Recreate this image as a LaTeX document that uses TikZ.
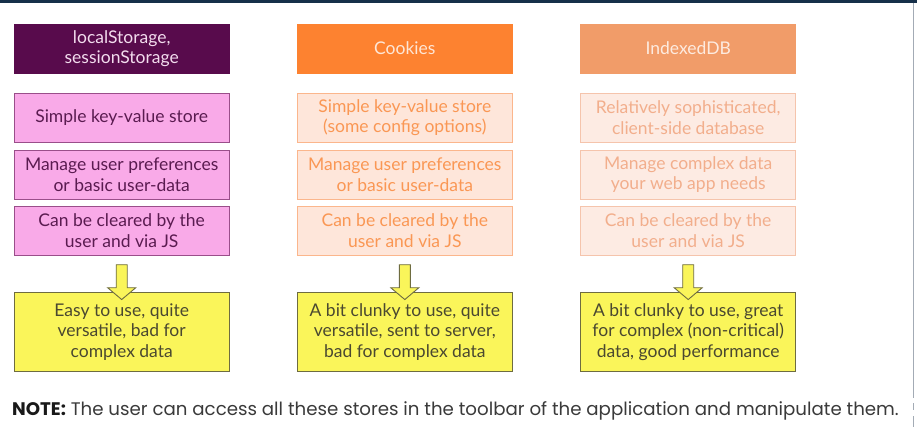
\documentclass[tikz,border=0pt]{standalone}
\usepackage{fontspec}
\newfontfamily\boxfont{Lato}
\newfontfamily\notefont{Poppins}
\usetikzlibrary{calc}
\definecolor{topbar}{HTML}{163049}
\definecolor{edgeline}{HTML}{A3ABB5}
\definecolor{hdA}{HTML}{580B4C}
\definecolor{hdAtxt}{HTML}{F3DCEE}
\definecolor{hdB}{HTML}{FD8230}
\definecolor{hdBtxt}{HTML}{FEE6D6}
\definecolor{hdC}{HTML}{F19C69}
\definecolor{hdCtxt}{HTML}{FDEBE0}
\definecolor{pkFill}{HTML}{F9AAE8}
\definecolor{pkDraw}{HTML}{9A4E8A}
\definecolor{pkTxt}{HTML}{5A1B50}
\definecolor{orFill}{HTML}{FEE6DA}
\definecolor{orDraw}{HTML}{FBB68C}
\definecolor{orTxt}{HTML}{FA9754}
\definecolor{saFill}{HTML}{FDEBE3}
\definecolor{saDraw}{HTML}{F5C4AC}
\definecolor{saTxt}{HTML}{F2AE8C}
\definecolor{ywFill}{HTML}{FAF55A}
\definecolor{ywDraw}{HTML}{6E6C40}
\definecolor{ywTxt}{HTML}{4A4830}
\definecolor{noteTxt}{HTML}{3A3A3A}
\tikzset{
  cell/.style={rectangle, minimum width=215pt, minimum height=49pt, align=center,
    inner sep=0pt, line width=0.9pt, font=\boxfont\fontsize{17.5}{20.5}\selectfont},
  hdrA/.style={cell, fill=hdA, draw=hdA, text=hdAtxt},
  hdrB/.style={cell, fill=hdB, draw=hdB, text=hdBtxt},
  hdrC/.style={cell, fill=hdC, draw=hdC, text=hdCtxt},
  pinkbox/.style={cell, fill=pkFill, draw=pkDraw, text=pkTxt},
  orangebox/.style={cell, fill=orFill, draw=orDraw, text=orTxt},
  salmonbox/.style={cell, fill=saFill, draw=saDraw, text=saTxt},
  yellowbox/.style={cell, minimum height=79pt, fill=ywFill, draw=ywDraw, text=ywTxt},
  blockarrow/.style={fill=ywFill, draw=ywDraw, line width=0.9pt, line join=miter},
}
\newcommand{\downarrowblock}[2]{%
  \draw[blockarrow]
    ($(#1.south)+(-5.5,9)$) -- ($(#1.south)+(5.5,9)$) --
    ($(#1.south)+(5.5,32)$) -- ($(#1.south)+(14,32)$) --
    ($(#2.north)+(0,7.5)$) --
    ($(#1.south)+(-14,32)$) -- ($(#1.south)+(-5.5,32)$) -- cycle;}
\begin{document}
\begin{tikzpicture}[x=1pt,y=-1pt]
\useasboundingbox (0,0) rectangle (917,427);
\fill[white] (0,0) rectangle (917,427);
\fill[topbar] (0,0) rectangle (917,3);
\draw[edgeline, line width=1.6pt] (913.5,3) -- (913.5,398);
\draw[edgeline, line width=1.6pt] (913.5,403) -- (913.5,410);
\draw[edgeline, line width=1.6pt] (913.5,416) -- (913.5,427);

% column 1
\node[hdrA] (h1) at (121.7,48.5) {localStorage,\\sessionStorage};
\node[pinkbox] (a1) at (121.7,117.5) {Simple key-value store};
\node[pinkbox] (a2) at (121.7,174.5) {Manage user preferences\\or basic user-data};
\node[pinkbox] (a3) at (121.7,230.8) {Can be cleared by the\\user and via JS};
\node[yellowbox] (a4) at (121.7,332) {Easy to use, quite\\versatile, bad for\\complex data};

% column 2
\node[hdrB] (h2) at (404.8,48.5) {Cookies};
\node[orangebox] (b1) at (404.8,117.5) {Simple key-value store\\(some config options)};
\node[orangebox] (b2) at (404.8,174.5) {Manage user preferences\\or basic user-data};
\node[orangebox] (b3) at (404.8,230.8) {Can be cleared by the\\user and via JS};
\node[yellowbox] (b4) at (404.8,332) {A bit clunky to use, quite\\versatile, sent to server,\\bad for complex data};

% column 3
\node[hdrC] (h3) at (688.2,48.5) {IndexedDB};
\node[salmonbox] (c1) at (688.2,117.5) {Relatively sophisticated,\\client-side database};
\node[salmonbox] (c2) at (688.2,174.5) {Manage complex data\\your web app needs};
\node[salmonbox] (c3) at (688.2,230.8) {Can be cleared by the\\user and via JS};
\node[yellowbox] (c4) at (688.2,332) {A bit clunky to use, great\\for complex (non-critical)\\data, good performance};

\downarrowblock{a3}{a4}
\downarrowblock{b3}{b4}
\downarrowblock{c3}{c4}

\node[anchor=base west, inner sep=0pt, text=noteTxt, font=\notefont\fontsize{18.2}{22}\selectfont] (note) at (12,415)
  {\textcolor{black!90}{\bfseries NOTE:} The user can access all these stores in the toolbar of the application and manipulate them.};
\end{tikzpicture}
\end{document}
